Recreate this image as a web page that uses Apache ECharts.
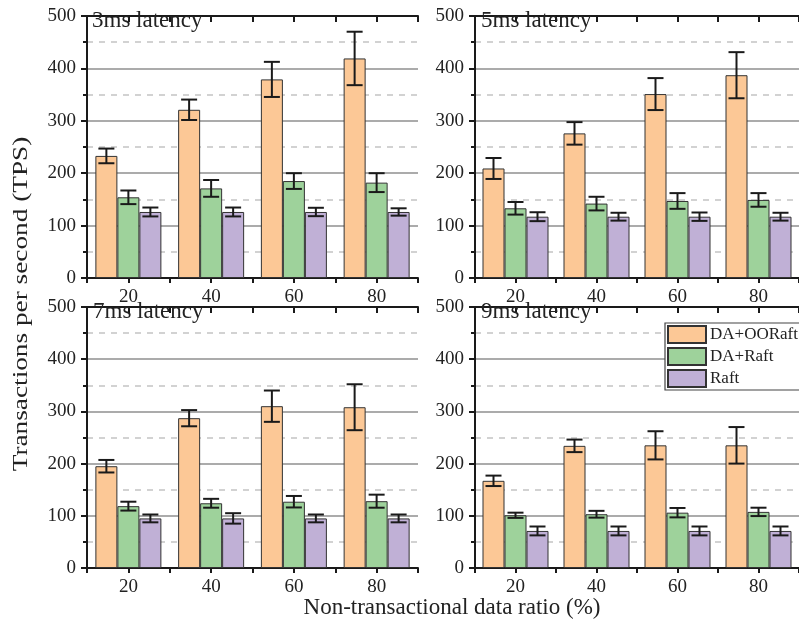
<!DOCTYPE html>
<html>
<head>
<meta charset="utf-8">
<script src="https://cdn.jsdelivr.net/npm/echarts@6/dist/echarts.min.js"></script>
<style>html,body{margin:0;padding:0;background:#fff}#c{width:799px;height:621px}</style>
</head>
<body>
<div id="c"></div>
<script>
// ---- data ----
const categories = ['20', '40', '60', '80'];
const panelTitles = ['3ms latency', '5ms latency', '7ms latency', '9ms latency'];
const seriesNames = ['DA+OORaft', 'DA+Raft', 'Raft'];
const yTicks = [0, 100, 200, 300, 400, 500];

const ooraft3 = [233, 321, 379, 419];
const ooraft3Err = [14, 19.5, 33.5, 51];
const daraft3 = [154, 171, 185, 182];
const daraft3Err = [13, 16, 15, 18];
const raft3 = [126, 126, 126, 126];
const raft3Err = [8.5, 8.5, 8, 7];

const ooraft5 = [209, 276, 351, 387];
const ooraft5Err = [20, 21.5, 30.5, 44];
const daraft5 = [133, 142, 147, 149];
const daraft5Err = [12, 13, 15, 13];
const raft5 = [117, 117, 117, 117];
const raft5Err = [8.5, 7.5, 8, 7.5];

const ooraft7 = [195, 287, 310, 308];
const ooraft7Err = [12, 15.5, 30, 44];
const daraft7 = [118.5, 124, 127, 128];
const daraft7Err = [8.5, 8.5, 11, 12.5];
const raft7 = [95, 95, 95, 95];
const raft7Err = [7.5, 10, 7.5, 7.5];

const ooraft9 = [167, 234, 235, 235];
const ooraft9Err = [10, 12, 27, 35];
const daraft9 = [101, 103, 106, 107.5];
const daraft9Err = [5, 6.5, 9, 8];
const raft9 = [71, 71, 71, 71];
const raft9Err = [8.5, 8.5, 8.5, 8.5];

const panels = [
  {vals: [ooraft3, daraft3, raft3], errs: [ooraft3Err, daraft3Err, raft3Err]},
  {vals: [ooraft5, daraft5, raft5], errs: [ooraft5Err, daraft5Err, raft5Err]},
  {vals: [ooraft7, daraft7, raft7], errs: [ooraft7Err, daraft7Err, raft7Err]},
  {vals: [ooraft9, daraft9, raft9], errs: [ooraft9Err, daraft9Err, raft9Err]}
];

// ---- styling ----
const FONT = "'Liberation Serif', 'Times New Roman', serif";
const colors = ['#FCC896', '#9ED29B', '#C0B0D6'];
const grids = [
  {left: 87, top: 16, width: 331, height: 262},
  {left: 475, top: 16, width: 331, height: 262},
  {left: 87, top: 307, width: 331, height: 261},
  {left: 475, top: 307, width: 331, height: 261}
];
const titlePos = [[92, 21], [481, 21], [93, 312], [481, 312]];
const BAR_W = 22;

const xAxis = [], yAxis = [], series = [], graphic = [];
grids.forEach((g, i) => {
  const xi = xAxis.length;
  xAxis.push({
    type: 'category', gridIndex: i, position: 'bottom', data: categories,
    axisLine: {lineStyle: {color: '#1a1a1a', width: 2}},
    axisTick: {show: false},
    axisLabel: {fontFamily: FONT, fontSize: 19, color: '#222', margin: 10},
    splitLine: {show: false}
  });
  xAxis.push({
    type: 'value', gridIndex: i, position: 'bottom', min: 0, max: 4, interval: 0.5,
    axisLine: {show: false},
    axisTick: {show: true, inside: false, length: 5, lineStyle: {color: '#1a1a1a', width: 2}},
    axisLabel: {show: false}, splitLine: {show: false}
  });
  xAxis.push({
    type: 'value', gridIndex: i, position: 'top', min: 0, max: 4, interval: 0.5,
    axisLine: {show: true, lineStyle: {color: '#1a1a1a', width: 2}},
    axisTick: {show: true, inside: true, length: 6, lineStyle: {color: '#1a1a1a', width: 2}},
    axisLabel: {show: false}, splitLine: {show: false}
  });
  const yi = yAxis.length;
  yAxis.push({
    type: 'value', gridIndex: i, position: 'left', min: yTicks[0], max: yTicks[yTicks.length - 1], interval: 100,
    axisLine: {show: true, lineStyle: {color: '#1a1a1a', width: 2}},
    axisTick: {show: true, inside: false, length: 6, lineStyle: {color: '#1a1a1a', width: 2}},
    minorTick: {show: true, splitNumber: 2, length: 4, lineStyle: {color: '#1a1a1a', width: 2}},
    axisLabel: {fontFamily: FONT, fontSize: 19, color: '#222', margin: 11},
    splitLine: {show: true, lineStyle: {color: '#8f8f8f', width: 1.5}},
    minorSplitLine: {show: true, lineStyle: {color: '#c4c4c4', width: 1.5, type: [6, 6]}}
  });
  yAxis.push({
    type: 'value', gridIndex: i, position: 'right', min: 0, max: 500,
    axisLine: {show: true, lineStyle: {color: '#1a1a1a', width: 2}},
    axisTick: {show: false}, axisLabel: {show: false}, splitLine: {show: false}
  });
  const p = panels[i];
  p.vals.forEach((vals, s) => {
    series.push({
      type: 'bar', name: seriesNames[s], xAxisIndex: xi, yAxisIndex: yi,
      data: vals, barWidth: BAR_W, barGap: '0%',
      itemStyle: {color: colors[s], borderColor: '#333', borderWidth: 1},
      emphasis: {disabled: true}, z: 2
    });
  });
  p.vals.forEach((vals, s) => {
    const offset = (s - 1) * BAR_W;
    series.push({
      type: 'custom', xAxisIndex: xi, yAxisIndex: yi, z: 5,
      data: vals.map((v, k) => [k, v, p.errs[s][k]]),
      renderItem: function (params, api) {
        const k = api.value(0), v = api.value(1), e = api.value(2);
        const x = api.coord([k, v])[0] + offset;
        const yT = api.coord([k, v + e])[1];
        const yB = api.coord([k, v - e])[1];
        const st = {stroke: '#1a1a1a', lineWidth: 2};
        return {type: 'group', children: [
          {type: 'line', shape: {x1: x, y1: yT, x2: x, y2: yB}, style: st},
          {type: 'line', shape: {x1: x - 8, y1: yT, x2: x + 8, y2: yT}, style: st},
          {type: 'line', shape: {x1: x - 8, y1: yB, x2: x + 8, y2: yB}, style: st}
        ]};
      }
    });
  });
  graphic.push({
    type: 'text', left: titlePos[i][0], top: titlePos[i][1] - 12, z: 10,
    style: {text: panelTitles[i], font: '23px ' + FONT, fill: '#222'}
  });
});

graphic.push({
  type: 'text', x: 452, y: 608, z: 10,
  style: {text: 'Non-transactional data ratio (%)', font: '23px ' + FONT, fill: '#222', textAlign: 'center', textVerticalAlign: 'middle'}
});
graphic.push({
  type: 'text', x: 21, y: 304, rotation: Math.PI / 2, scaleX: 1.24, z: 10,
  style: {text: 'Transactions per second (TPS)', font: '22px ' + FONT, fill: '#222', textAlign: 'center', textVerticalAlign: 'middle'}
});

const chart = echarts.init(document.getElementById('c'), null, {renderer: 'canvas'});
chart.setOption({
  animation: false,
  grid: grids.map(g => Object.assign({containLabel: false}, g)),
  xAxis, yAxis, series, graphic,
  legend: {
    data: seriesNames, orient: 'vertical', left: 665, top: 323,
    itemWidth: 38, itemHeight: 17, itemGap: 3, icon: 'rect',
    padding: [2, 4, 2, 2], borderColor: '#444', borderWidth: 1.2, backgroundColor: '#fff',
    textStyle: {fontFamily: FONT, fontSize: 17, color: '#222', padding: [0, 0, 0, -1]},
    selectedMode: false
  }
});
</script>
</body>
</html>
